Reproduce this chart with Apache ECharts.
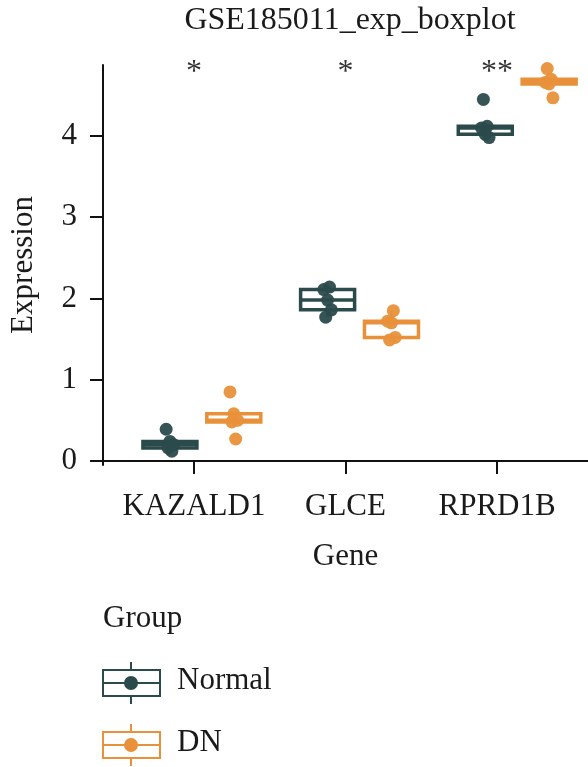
<!DOCTYPE html>
<html>
<head>
<meta charset="utf-8">
<script src="https://cdn.jsdelivr.net/npm/echarts@6/dist/echarts.min.js"></script>
<style>
  html, body { margin: 0; padding: 0; background: #fff; }
  #main { width: 588px; height: 767px; }
</style>
</head>
<body>
<div id="main"></div>
<script>
// data
var genes = ['KAZALD1', 'GLCE', 'RPRD1B'];
var groups = ['Normal', 'DN'];
var normalExpr = [
  [0.39, 0.24, 0.20, 0.16, 0.12],
  [2.14, 2.11, 1.98, 1.86, 1.77],
  [4.45, 4.12, 4.10, 4.02, 3.98]
];
var dnExpr = [
  [0.85, 0.58, 0.50, 0.48, 0.27],
  [1.85, 1.72, 1.70, 1.52, 1.49],
  [4.83, 4.70, 4.66, 4.64, 4.47]
];
var sigLabels = ['*', '*', '**'];
var yTicks = [0, 1, 2, 3, 4];

var colors = ['#2b4a4c', '#e8913a'];
var FONT = "'Liberation Serif', 'DejaVu Serif', serif";
var FS = 31;

// quantile type 7 (same as R)
function quantile(sorted, p) {
  var h = (sorted.length - 1) * p;
  var lo = Math.floor(h);
  var hi = Math.ceil(h);
  return sorted[lo] + (h - lo) * (sorted[hi] - sorted[lo]);
}
function boxStats(vals) {
  var s = vals.slice().sort(function (a, b) { return a - b; });
  var q1 = quantile(s, 0.25), med = quantile(s, 0.5), q3 = quantile(s, 0.75);
  var iqr = q3 - q1;
  var inside = s.filter(function (v) { return v >= q1 - 1.5 * iqr && v <= q3 + 1.5 * iqr; });
  return [inside[0], q1, med, q3, inside[inside.length - 1]];
}

var dodge = 0.2025;
var boxW = 54;

function groupSeries(exprs, gi) {
  var off = gi === 0 ? -dodge : dodge;
  var boxData = exprs.map(function (vals, i) {
    return [i + 1 + off].concat(boxStats(vals));
  });
  var pts = [];
  exprs.forEach(function (vals, i) {
    vals.forEach(function (v, k) {
      var jit = ((k * 7 + i * 3) % 5 - 2) * 0.012;
      pts.push([i + 1 + off + jit, v]);
    });
  });
  return [
    {
      name: groups[gi],
      type: 'custom',
      xAxisIndex: 1,
      data: boxData,
      z: 2,
      renderItem: function (params, api) {
        var x = api.value(0);
        var pLow = api.coord([x, api.value(1)]);
        var pQ1 = api.coord([x, api.value(2)]);
        var pMed = api.coord([x, api.value(3)]);
        var pQ3 = api.coord([x, api.value(4)]);
        var pHigh = api.coord([x, api.value(5)]);
        var cx = pMed[0];
        return {
          type: 'group',
          children: [
            { type: 'line', shape: { x1: cx, y1: pQ3[1], x2: cx, y2: pHigh[1] }, style: { stroke: colors[gi], lineWidth: 2 } },
            { type: 'line', shape: { x1: cx, y1: pQ1[1], x2: cx, y2: pLow[1] }, style: { stroke: colors[gi], lineWidth: 2 } },
            { type: 'rect', shape: { x: cx - boxW / 2, y: pQ3[1], width: boxW, height: pQ1[1] - pQ3[1] },
              style: { stroke: colors[gi], lineWidth: 3.5, fill: '#fff' } },
            { type: 'line', shape: { x1: cx - boxW / 2, y1: pMed[1], x2: cx + boxW / 2, y2: pMed[1] },
              style: { stroke: colors[gi], lineWidth: 3.5 } }
          ]
        };
      }
    },
    {
      name: groups[gi],
      type: 'scatter',
      xAxisIndex: 1,
      data: pts,
      symbolSize: 13,
      z: 3,
      itemStyle: { color: colors[gi], opacity: 0.95 }
    }
  ];
}

var chart = echarts.init(document.getElementById('main'));
var option = {
  backgroundColor: '#fff',
  animation: false,
  textStyle: { fontFamily: FONT },
  title: {
    text: 'GSE185011_exp_boxplot',
    left: 345,
    textAlign: 'center',
    top: 0,
    textStyle: { fontFamily: FONT, fontSize: 32, fontWeight: 'normal', color: '#1a1a1a' }
  },
  grid: { left: 102, right: 0, top: 65, bottom: 302 },
  xAxis: [
    {
      type: 'value',
      min: 0.4,
      max: 3.6,
      name: 'Gene',
      nameLocation: 'middle',
      nameGap: 76,
      nameTextStyle: { fontFamily: FONT, fontSize: FS, color: '#1a1a1a' },
      splitLine: { show: false },
      axisLine: { lineStyle: { color: '#111', width: 2 } },
      axisTick: { customValues: [1, 2, 3], length: 13, lineStyle: { color: '#111', width: 2 } },
      axisLabel: {
        customValues: [1, 2, 3],
        margin: 26,
        fontFamily: FONT, fontSize: FS, color: '#1a1a1a',
        formatter: function (v) { return genes[Math.round(v) - 1]; }
      }
    },
    {
      type: 'value',
      min: 0.373,
      max: 3.449,
      show: false
    }
  ],
  yAxis: {
    type: 'value',
    min: -0.05,
    max: 4.874,
    name: 'Expression',
    nameLocation: 'middle',
    nameRotate: 90,
    nameGap: 64,
    nameTextStyle: { fontFamily: FONT, fontSize: FS, color: '#1a1a1a' },
    splitLine: { show: false },
    axisLine: { show: true, lineStyle: { color: '#111', width: 2 } },
    axisTick: { show: true, customValues: yTicks, length: 13, lineStyle: { color: '#111', width: 2 } },
    axisLabel: { customValues: yTicks, margin: 26, fontFamily: FONT, fontSize: FS, color: '#1a1a1a' }
  },
  series: groupSeries(normalExpr, 0).concat(groupSeries(dnExpr, 1)).concat([
    {
      type: 'scatter',
      xAxisIndex: 0,
      symbolSize: 0,
      data: sigLabels.map(function (s, i) { return [i + 1, 4.84]; }),
      label: {
        show: true,
        position: 'inside',
        offset: [0, 5],
        fontFamily: FONT, fontSize: 32, color: '#000',
        formatter: function (p) { return sigLabels[p.dataIndex]; }
      },
      z: 5
    }
  ]),
  graphic: []
};

// legend drawn as graphic: title, box icons, labels
var legendG = [
  { type: 'text', left: 103, top: 603, style: { text: 'Group', font: FS + 'px ' + FONT, fill: '#1a1a1a' } }
];
groups.forEach(function (g, gi) {
  var cy = gi === 0 ? 683 : 745;
  var c = colors[gi];
  legendG.push(
    { type: 'line', shape: { x1: 131, y1: cy - 21, x2: 131, y2: cy + 21 }, style: { stroke: c, lineWidth: 2 } },
    { type: 'rect', shape: { x: 103, y: cy - 13, width: 57, height: 26 }, style: { stroke: c, lineWidth: 2, fill: '#fff' } },
    { type: 'line', shape: { x1: 103, y1: cy, x2: 160, y2: cy }, style: { stroke: c, lineWidth: 2 } },
    { type: 'circle', shape: { cx: 131, cy: cy, r: 7 }, style: { fill: c } },
    { type: 'text', left: 177, top: cy - 18, style: { text: g, font: FS + 'px ' + FONT, fill: '#1a1a1a' } }
  );
});
option.graphic = legendG;

chart.setOption(option);
</script>
</body>
</html>
